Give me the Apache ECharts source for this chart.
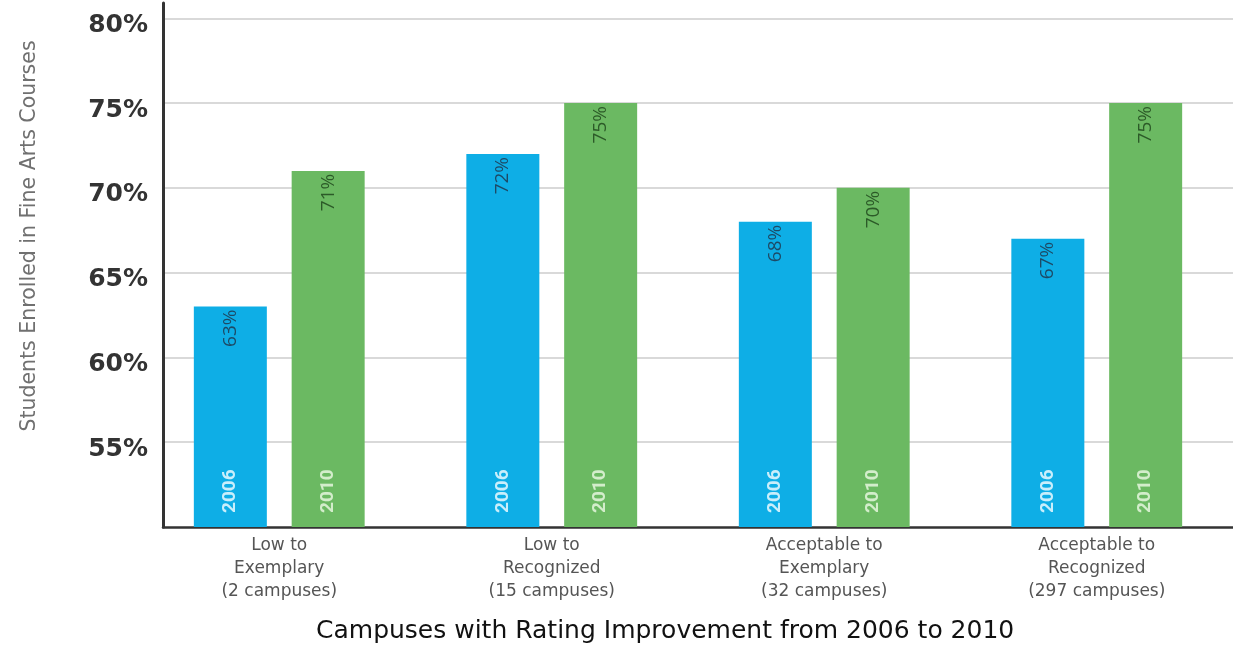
<!DOCTYPE html>
<html>
<head>
<meta charset="utf-8">
<script src="https://cdn.jsdelivr.net/npm/echarts@6/dist/echarts.min.js"></script>
<style>
  html, body { margin: 0; padding: 0; background: #ffffff; }
  #chart { width: 1233px; height: 651px; }
</style>
</head>
<body>
<div id="chart"></div>
<script>
// Rating-improvement groups along the horizontal axis
const categories = [
  'Low to\nExemplary\n(2 campuses)',
  'Low to\nRecognized\n(15 campuses)',
  'Acceptable to\nExemplary\n(32 campuses)',
  'Acceptable to\nRecognized\n(297 campuses)'
];
// Survey years, one bar per year in each group
const years = ['2006', '2010'];
// Share of students enrolled in fine arts courses (%)
const values2006 = [63, 72, 68, 67];
const values2010 = [71, 75, 70, 75];
// Value axis range and step (%)
const yMin = 50;
const yMax = 80.9;
const yStep = 5;

const xTitle = 'Campuses with Rating Improvement from 2006 to 2010';
const yTitle = 'Students Enrolled in Fine Arts Courses';

const BLUE = '#0eaee6';
const GREEN = '#6bb962';

const chart = echarts.init(document.getElementById('chart'), null, { renderer: 'canvas' });

function valueLabel(color) {
  return {
    show: true,
    position: 'insideTop',
    distance: 3,
    rotate: 90,
    align: 'right',
    verticalAlign: 'middle',
    formatter: '{c}%',
    fontFamily: 'Open Sans',
    fontSize: 19,
    color: color
  };
}

function yearLabel(text, color) {
  return {
    show: true,
    position: 'insideBottom',
    distance: 14,
    rotate: 90,
    align: 'left',
    verticalAlign: 'middle',
    formatter: text,
    fontFamily: 'Roboto',
    fontWeight: 'bold',
    fontSize: 19,
    color: color
  };
}

const option = {
  animation: false,
  backgroundColor: '#ffffff',
  title: {
    text: xTitle,
    left: 311,
    top: 614,
    textStyle: { fontFamily: 'DejaVu Sans', fontWeight: 'normal', fontSize: 25, color: '#111111' }
  },
  graphic: [{
    type: 'text',
    x: 30,
    y: 236,
    rotation: Math.PI / 2,
    style: {
      text: yTitle,
      fontFamily: 'DejaVu Sans',
      fontSize: 20.5,
      fill: '#707070',
      textAlign: 'center',
      textVerticalAlign: 'middle'
    }
  }],
  grid: [
    // frame: value axis, gridlines and baseline
    { left: 163, right: 0, top: 3, bottom: 124 },
    // bars and group labels
    { left: 143, right: -8, top: 3, bottom: 124 }
  ],
  xAxis: [
    {
      type: 'category', gridIndex: 0, data: categories,
      axisLine: { show: true, lineStyle: { color: '#333333', width: 2.5 } },
      axisTick: { show: false }, axisLabel: { show: false }, splitLine: { show: false }
    },
    {
      type: 'category', gridIndex: 1, data: categories,
      axisLine: { show: false }, axisTick: { show: false },
      axisLabel: {
        margin: 7, fontFamily: 'DejaVu Sans', fontSize: 17, lineHeight: 23, color: '#555555'
      }
    },
    {
      type: 'category', gridIndex: 1, data: categories, show: false
    }
  ],
  yAxis: [
    {
      type: 'value', gridIndex: 0, min: yMin, max: yMax, interval: yStep,
      axisLine: { show: true, lineStyle: { color: '#333333', width: 3 } },
      axisTick: { show: false },
      splitLine: { show: true, showMinLine: false, showMaxLine: false, lineStyle: { color: '#cccccc', width: 1.5 } },
      axisLabel: {
        margin: 15,
        showMinLabel: false,
        showMaxLabel: false,
        verticalAlign: 'top',
        lineHeight: 14,
        formatter: '{value}%',
        fontFamily: 'DejaVu Sans',
        fontWeight: 'bold',
        fontSize: 25,
        color: '#333333'
      }
    },
    {
      type: 'value', gridIndex: 1, min: yMin, max: yMax, interval: yStep, show: false,
      splitLine: { show: false }
    }
  ],
  series: [
    {
      name: years[0], type: 'bar', xAxisIndex: 1, yAxisIndex: 1,
      data: values2006, barWidth: 73, barGap: '34%',
      itemStyle: { color: BLUE },
      label: valueLabel('#1d4a66')
    },
    {
      name: years[1], type: 'bar', xAxisIndex: 1, yAxisIndex: 1,
      data: values2010, barWidth: 73, barGap: '34%',
      itemStyle: { color: GREEN },
      label: valueLabel('#2c5a28')
    },
    {
      name: years[0] + ' year', type: 'bar', xAxisIndex: 2, yAxisIndex: 1,
      data: values2006, barWidth: 73, barGap: '34%', silent: true,
      itemStyle: { color: 'rgba(0,0,0,0)' },
      label: yearLabel(years[0], '#c9eefb')
    },
    {
      name: years[1] + ' year', type: 'bar', xAxisIndex: 2, yAxisIndex: 1,
      data: values2010, barWidth: 73, barGap: '34%', silent: true,
      itemStyle: { color: 'rgba(0,0,0,0)' },
      label: yearLabel(years[1], '#d3edcb')
    }
  ]
};

chart.setOption(option);
</script>
</body>
</html>
